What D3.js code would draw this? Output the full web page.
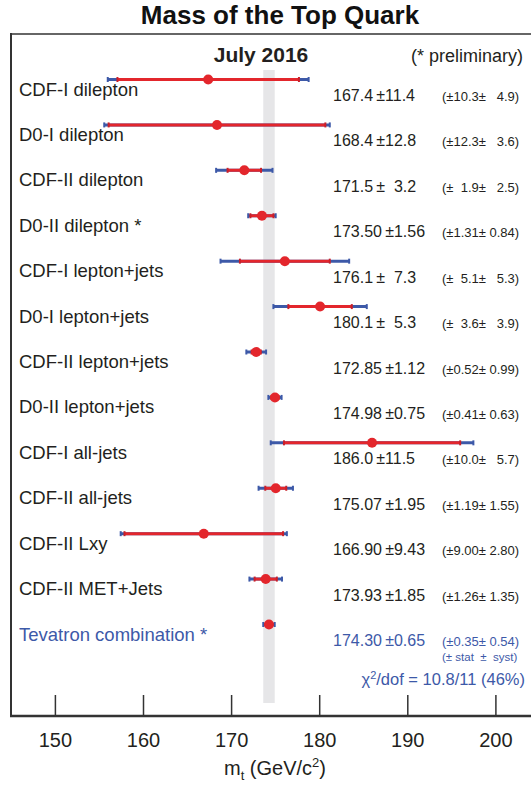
<!DOCTYPE html>
<html lang="en">
<head>
<meta charset="UTF-8">
<title>Mass of the Top Quark</title>
<style>
  body { margin: 0; background: #fff; }
  text { font-family: "Liberation Sans", Arial, Helvetica, sans-serif; white-space: pre; }
</style>
</head>
<body>
<div id="chart"></div>
<script src="https://cdnjs.cloudflare.com/ajax/libs/d3/7.8.5/d3.min.js"></script>
<script>
  // measurements, top to bottom
  const labels = ["CDF-I dilepton", "D0-I dilepton", "CDF-II dilepton", "D0-II dilepton *",
    "CDF-I lepton+jets", "D0-I lepton+jets", "CDF-II lepton+jets", "D0-II lepton+jets",
    "CDF-I all-jets", "CDF-II all-jets", "CDF-II Lxy", "CDF-II MET+Jets", "Tevatron combination *"];
  const mass  = [167.4, 168.4, 171.5, 173.50, 176.1, 180.1, 172.85, 174.98, 186.0, 175.07, 166.90, 173.93, 174.30];
  const total = [11.4, 12.8, 3.2, 1.56, 7.3, 5.3, 1.12, 0.75, 11.5, 1.95, 9.43, 1.85, 0.65];
  const stat  = [10.3, 12.3, 1.9, 1.31, 5.1, 3.6, 0.52, 0.41, 10.0, 1.19, 9.00, 1.26, 0.35];
  const syst  = [4.9, 3.6, 2.5, 0.84, 5.3, 3.9, 0.99, 0.63, 5.7, 1.55, 2.80, 1.35, 0.54];
  const decimals = [1, 1, 1, 2, 1, 1, 2, 2, 1, 2, 2, 2, 2];
  const xTicks = [150, 160, 170, 180, 190, 200];

  const width = 531, height = 787;
  const red = "#e3262c", redDark = "#c8202a", blue = "#3d59a8", ink = "#231f20";

  const svg = d3.select("#chart").append("svg")
    .attr("width", width).attr("height", height);

  const x = d3.scaleLinear().domain([150, 200]).range([54.9, 495.4]);
  const y = d3.scalePoint().domain(d3.range(labels.length)).range([79.5, 624.5]);
  const last = labels.length - 1;

  // gray band = combination +- total error
  svg.append("rect")
    .attr("x", x(mass[last] - total[last]))
    .attr("width", x(mass[last] + total[last]) - x(mass[last] - total[last]))
    .attr("y", 70).attr("height", 703 - 70)
    .attr("fill", "#e6e6e8");

  // frame
  svg.append("line").attr("x1", 11).attr("x2", width).attr("y1", 34).attr("y2", 34)
    .attr("stroke", "#666").attr("stroke-width", 2);
  svg.append("line").attr("x1", 11).attr("x2", 11).attr("y1", 33).attr("y2", 717)
    .attr("stroke", "#333").attr("stroke-width", 2);

  // axis
  const axis = svg.append("g")
    .attr("transform", "translate(0,716)")
    .call(d3.axisBottom(x).tickValues(xTicks).tickSizeInner(-21).tickSizeOuter(0).tickPadding(17));
  axis.select(".domain").remove();
  axis.selectAll(".tick line").attr("stroke", "#333").attr("stroke-width", 1.5);
  axis.selectAll(".tick text").attr("font-size", 20).attr("fill", ink)
    .attr("font-family", "Liberation Sans, Arial, sans-serif");
  svg.append("line").attr("x1", 10).attr("x2", width).attr("y1", 716).attr("y2", 716)
    .attr("stroke", "#333").attr("stroke-width", 2.5);

  // titles
  svg.append("text").attr("x", 280).attr("y", 24).attr("text-anchor", "middle")
    .attr("font-size", 26).attr("font-weight", "bold").attr("fill", "#111")
    .text("Mass of the Top Quark");
  svg.append("text").attr("x", 261).attr("y", 61.5).attr("text-anchor", "middle")
    .attr("font-size", 21).attr("font-weight", "bold").attr("fill", ink)
    .text("July 2016");
  svg.append("text").attr("x", 523).attr("y", 61.5).attr("text-anchor", "end")
    .attr("font-size", 18).attr("fill", ink)
    .text("(* preliminary)");

  const xl = svg.append("text").attr("x", 275).attr("y", 775).attr("text-anchor", "middle")
    .attr("font-size", 20).attr("fill", ink);
  xl.append("tspan").text("m");
  xl.append("tspan").attr("font-size", 13).attr("dy", 5).text("t");
  xl.append("tspan").attr("dy", -5).text(" (GeV/c");
  xl.append("tspan").attr("font-size", 13).attr("dy", -8).text("2");
  xl.append("tspan").attr("dy", 8).text(")");

  // error bars
  const rows = svg.append("g").selectAll("g").data(d3.range(labels.length)).join("g");

  function bar(g, err, color, capColor) {
    g.append("line")
      .attr("x1", i => x(mass[i] - err[i])).attr("x2", i => x(mass[i] + err[i]))
      .attr("y1", i => y(i)).attr("y2", i => y(i))
      .attr("stroke", color).attr("stroke-width", 3);
    [-1, 1].forEach(s => {
      g.append("line")
        .attr("x1", i => x(mass[i] + s * err[i])).attr("x2", i => x(mass[i] + s * err[i]))
        .attr("y1", i => y(i) - 2.5).attr("y2", i => y(i) + 2.5)
        .attr("stroke", capColor).attr("stroke-width", 2);
    });
  }
  bar(rows, total, blue, blue);
  bar(rows, stat, red, redDark);

  rows.append("circle")
    .attr("cx", i => x(mass[i])).attr("cy", i => y(i)).attr("r", 5)
    .attr("fill", red);

  // labels and numbers
  const fmt = (v, d) => v.toFixed(d);
  rows.append("text")
    .attr("x", 19).attr("y", i => y(i) + 16)
    .attr("font-size", 18.5)
    .attr("fill", i => i === last ? blue : ink)
    .text(i => labels[i]);

  rows.append("text")
    .attr("x", 333).attr("y", i => y(i) + 21.5)
    .attr("font-size", 16)
    .attr("fill", i => i === last ? blue : ink)
    .text(i => {
      const e = fmt(total[i], decimals[i]);
      const pad = total[i] < 10 && decimals[i] === 1 ? "\u2009\u00b1\u2007" : "\u2009\u00b1";
      return fmt(mass[i], decimals[i]) + pad + e;
    });

  rows.append("text")
    .attr("x", 442).attr("y", i => y(i) + 21.5)
    .attr("font-size", 13)
    .attr("fill", i => i === last ? blue : ink)
    .text(i => {
      const d = decimals[i];
      const s = (stat[i] < 10 && d === 1 ? "\u2007" : "") + fmt(stat[i], d);
      const t = (syst[i] < 10 && d === 1 ? "\u2007" : "") + fmt(syst[i], d);
      return "(\u00b1" + s + "\u00b1 " + t + ")";
    });

  svg.append("text").attr("x", 442).attr("y", y(last) + 36)
    .attr("font-size", 11.5).attr("fill", blue)
    .text("(\u00b1 stat  \u00b1  syst)");

  const chi = svg.append("text").attr("x", 525).attr("y", 685).attr("text-anchor", "end")
    .attr("font-size", 16.5).attr("fill", blue);
  chi.append("tspan").text("\u03c7");
  chi.append("tspan").attr("font-size", 11).attr("dy", -6).text("2");
  chi.append("tspan").attr("dy", 6).text("/dof = 10.8/11 (46%)");
</script>
</body>
</html>
